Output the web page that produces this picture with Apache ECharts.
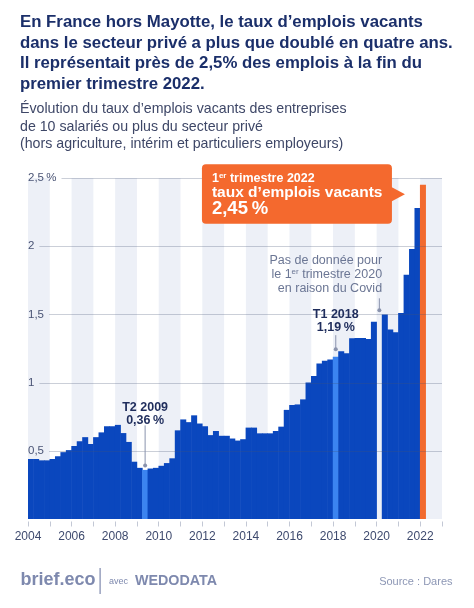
<!DOCTYPE html>
<html><head><meta charset="utf-8">
<script src="https://cdn.jsdelivr.net/npm/echarts@6/dist/echarts.min.js"></script>
<style>html,body{margin:0;padding:0;background:#fff}#c{width:474px;height:608px}</style>
</head><body><div id="c"></div>
<script>
// ---------- data ----------
const years = [2004,2005,2006,2007,2008,2009,2010,2011,2012,2013,2014,2015,2016,2017,2018,2019,2020,2021,2022];
const quarterNames = ['T1','T2','T3','T4'];
const quarters = [];
years.forEach(y => quarterNames.forEach(q => quarters.push(y + ' ' + q)));

// taux d'emplois vacants (%), 2004 T1 -> 2022 T1 (null: pas de donnée)
const vacancyRate = [
  0.44, 0.44, 0.43, 0.43,
  0.44, 0.46, 0.49, 0.505,
  0.535, 0.57, 0.60, 0.55,
  0.60, 0.635, 0.68, 0.68,
  0.69, 0.63, 0.565, 0.42,
  0.375, 0.36, 0.37, 0.375,
  0.39, 0.41, 0.445, 0.65,
  0.73, 0.71, 0.76, 0.70,
  0.68, 0.615, 0.645, 0.61,
  0.61, 0.59, 0.575, 0.585,
  0.67, 0.67, 0.628, 0.628,
  0.628, 0.645, 0.677, 0.80,
  0.836, 0.84, 0.877, 1.0,
  1.048, 1.14, 1.16, 1.17,
  1.19, 1.23, 1.215, 1.325,
  1.327, 1.327, 1.32, 1.447,
  null, 1.50, 1.39, 1.37,
  1.51, 1.79, 1.98, 2.28,
  2.45
];
const highlightQuarters = ['2009 T2', '2018 T1'];
const latestQuarter = '2022 T1';

const yTicks = [0.5, 1, 1.5, 2, 2.5];
const yTickLabels = ['0,5', '1', '1,5', '2', '2,5\u2009%'];
const xYearMin = 2004, xYearMax = 2023;

const titleText = 'En France hors Mayotte, le taux d’emplois vacants\ndans le secteur privé a plus que doublé en quatre ans.\nIl représentait près de 2,5% des emplois à la fin du\npremier trimestre 2022.';
const subtitleText = 'Évolution du taux d’emplois vacants des entreprises\nde 10 salariés ou plus du secteur privé\n(hors agriculture, intérim et particuliers employeurs)';

const annotations = [
  {quarter: '2009 T2', at: 0.36, kind: 'dark', lines: ['T2 2009', '0,36\u2009%']},
  {quarter: '2018 T1', at: 1.19, kind: 'dark', lines: ['T1 2018', '1,19\u2009%']},
  {quarter: '2020 T1', at: 1.53, kind: 'note', lines: ['Pas de donnée pour', 'le 1{sup|er} trimestre 2020', 'en raison du Covid']},
  {quarter: '2022 T1', at: 2.45, kind: 'callout', lines: ['{a|1}{s|er}{a| trimestre 2022}', 'taux d’emplois vacants', '2,45\u2009%']}
];
// pixel offsets of the annotation leaders (style only)
const annoStyle = {
  '2009 T2': {dotGap: 4.5, lineLen: 40, textGap: 5},
  '2018 T1': {dotGap: 7.5, lineLen: 14, textGap: 8},
  '2020 T1': {dotGap: 0, lineLen: 12, textGap: 10}
};

// ---------- styles ----------
const FONT = '"Liberation Sans", Arial, Helvetica, sans-serif';
const BAR = '#0a47be', BAR_HI = '#3b84f0', BAR_LAST = '#f26a2e';
const NAVY = '#1b2f6a';
const AXIS_FONT_SIZE = 11.5;

const mctx = document.createElement('canvas').getContext('2d');
function textW(t, font) { mctx.font = font; return mctx.measureText(t).width; }

const barData = vacancyRate.map((v, i) => {
  const q = quarters[i];
  const c = q === latestQuarter ? BAR_LAST : (highlightQuarters.includes(q) ? BAR_HI : BAR);
  return {value: v, itemStyle: {color: c}};
});

function renderGridLine(params, api) {
  const v = api.value(1);
  const cs = params.coordSys;
  const y = Math.round(api.coord([xYearMin, v])[1]) + 0.5;
  const lbl = yTickLabels[yTicks.indexOf(v)];
  const w = textW(lbl, AXIS_FONT_SIZE + 'px ' + FONT);
  return {
    type: 'line',
    shape: {x1: cs.x + w + 5, y1: y, x2: cs.x + cs.width, y2: y},
    style: {stroke: 'rgba(70,82,115,0.28)', lineWidth: 1}
  };
}

function renderAnno(params, api) {
  const a = annotations[params.dataIndex];
  const p = api.coord([api.value(0), api.value(1)]);
  const half = api.size([1, 0])[0] / 2;
  const children = [];
  if (a.kind === 'callout') {
    const tipX = p[0] - 18, tipY = p[1] + 9.5;
    const bR = tipX - 13, bW = 190, bT = tipY - 30, bH = 59.5;
    const bL = bR - bW;
    children.push({type: 'rect', shape: {x: bL, y: bT, width: bW, height: bH, r: 4}, style: {fill: '#f4692e'}});
    children.push({type: 'polygon', shape: {points: [[bR - 1, tipY - 7.5], [tipX, tipY], [bR - 1, tipY + 7.5]]}, style: {fill: '#f4692e'}});
    children.push({type: 'text', style: {
      text: a.lines[0], x: bL + 10, y: bT + 14, align: 'left', verticalAlign: 'middle',
      rich: {a: {fontFamily: FONT, fontWeight: 'bold', fontSize: 12.5, lineHeight: 14, fill: '#fff', color: '#fff'},
             s: {fontFamily: FONT, fontWeight: 'bold', fontSize: 8, lineHeight: 8, verticalAlign: 'top', fill: '#fff', color: '#fff'}}
    }});
    children.push({type: 'text', style: {text: a.lines[1], x: bL + 10, y: bT + 28.5, align: 'left', verticalAlign: 'middle',
      font: 'bold 15.5px ' + FONT, fill: '#fff'}});
    children.push({type: 'text', style: {text: a.lines[2], x: bL + 10, y: bT + 45, align: 'left', verticalAlign: 'middle',
      font: 'bold 18.5px ' + FONT, fill: '#fff'}});
  } else {
    const st = annoStyle[a.quarter];
    const dotY = p[1] - st.dotGap, topY = dotY - st.lineLen;
    children.push({type: 'line', shape: {x1: p[0], y1: dotY, x2: p[0], y2: topY}, style: {stroke: '#8a93ad', lineWidth: 1}});
    children.push({type: 'circle', shape: {cx: p[0], cy: dotY, r: 2}, style: {fill: '#8a93ad'}});
    if (a.kind === 'dark') {
      const lh = 13;
      children.push({type: 'text', style: {
        text: a.lines.join('\n'), x: p[0], y: topY - st.textGap + lh / 2, align: 'center', verticalAlign: 'bottom',
        font: 'bold 12.5px ' + FONT, lineHeight: lh, fill: '#1f2d5c'}});
    } else {
      const lh = 14;
      children.push({type: 'text', style: {
        text: a.lines.join('\n'), x: p[0] + half, y: topY - st.textGap + lh / 2, align: 'right', verticalAlign: 'bottom',
        font: '12.5px ' + FONT, lineHeight: lh, fill: '#6b7694',
        rich: {sup: {fontFamily: FONT, fontSize: 8, lineHeight: 8, verticalAlign: 'top', fill: '#6b7694', color: '#6b7694'}}}});
    }
  }
  return {type: 'group', children};
}

const chart = echarts.init(document.getElementById('c'), null, {renderer: 'canvas'});
chart.setOption({
  animation: false,
  backgroundColor: '#ffffff',
  title: [
    {text: titleText, left: 20, top: 12, padding: 0,
     textStyle: {fontFamily: FONT, fontWeight: 'bold', fontSize: 16.8, lineHeight: 20.7, color: NAVY}},
    {text: subtitleText, left: 20, top: 100, padding: 0,
     textStyle: {fontFamily: FONT, fontWeight: 'normal', fontSize: 14.2, lineHeight: 17.8, color: '#3e4767'}}
  ],
  grid: {left: 28, right: 32, top: 178, bottom: 89, containLabel: false},
  xAxis: [
    {type: 'category', data: quarters, show: false, boundaryGap: true},
    {type: 'value', min: xYearMin, max: xYearMax, interval: 1, position: 'bottom', offset: 2.5,
     axisLine: {show: false},
     axisTick: {show: true, length: 5, lineStyle: {color: '#c3c8d5', width: 1}},
     axisLabel: {show: true, margin: 8, fontFamily: FONT, fontSize: 12, lineHeight: 14, color: '#3e4a6e',
       formatter: v => (v % 2 === 0 && v < xYearMax) ? String(v) : ''},
     splitLine: {show: false},
     splitArea: {show: true, areaStyle: {color: ['#edf0f7', 'rgba(255,255,255,0)']}}}
  ],
  yAxis: {type: 'value', min: 0, max: 2.5, interval: 0.5,
    axisLine: {show: false}, axisTick: {show: false}, splitLine: {show: false},
    axisLabel: {inside: true, margin: 0, fontFamily: FONT, fontSize: AXIS_FONT_SIZE, color: '#4a5475',
      verticalAlign: 'middle', padding: [0, 0, 5, 0],
      formatter: v => { const i = yTicks.indexOf(v); return i >= 0 ? yTickLabels[i] : ''; }}},
  series: [
    {type: 'bar', xAxisIndex: 0, yAxisIndex: 0, data: barData, barWidth: 6.0, barGap: '-100%', z: 2},
    {type: 'custom', xAxisIndex: 1, yAxisIndex: 0, z: 3, silent: true, clip: false,
     data: yTicks.map(v => [xYearMin, v]), renderItem: renderGridLine},
    {type: 'custom', xAxisIndex: 0, yAxisIndex: 0, z: 5, silent: true, clip: false,
     data: annotations.map(a => [quarters.indexOf(a.quarter), a.at]), renderItem: renderAnno}
  ],
  graphic: [
    {type: 'text', left: 20.5, top: 571, style: {text: 'brief.eco', font: 'bold 18px ' + FONT, fill: '#7e89ae'}},
    {type: 'rect', left: 99.5, top: 568, shape: {width: 1.2, height: 26}, style: {fill: '#7e89ae'}},
    {type: 'text', left: 109, top: 577.5, style: {text: 'avec', font: '9px ' + FONT, fill: '#7e89ae'}},
    {type: 'text', left: 135, top: 574, style: {text: 'WEDODATA', font: 'bold 14.3px ' + FONT, fill: '#7e89ae'}},
    {type: 'text', right: 21.5, top: 576, style: {text: 'Source : Dares', font: '11px ' + FONT, fill: '#8d97b5'}}
  ]
});
</script>
</body></html>
